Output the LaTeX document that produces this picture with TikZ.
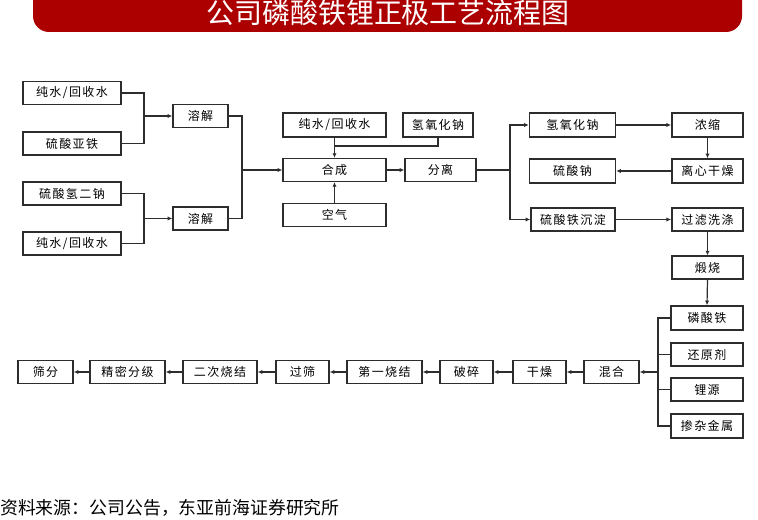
\documentclass[tikz,border=0pt]{standalone}
\usepackage{fontspec}
\usetikzlibrary{arrows.meta}
\newfontfamily\cjk{Noto Sans CJK SC}
\newfontfamily\cjkbox[LetterSpace=12]{Noto Sans CJK SC}
\definecolor{bannerred}{RGB}{172,0,0}
\definecolor{linegray}{RGB}{45,45,45}
\tikzset{
  box/.style={draw=linegray, line width=1.1pt, fill=white, inner sep=0pt,
    minimum height=17pt, font=\cjkbox\fontsize{9}{10}\selectfont},
  line/.style={draw=linegray, line width=0.9pt},
  arr/.style={line, -{Latex[length=3.5pt,width=3.2pt]}}
}

\begin{document}
\begin{tikzpicture}[x=0.75pt,y=-0.75pt]
  \useasboundingbox (0,0) rectangle (758,520);
  % title banner
  \fill[bannerred, rounded corners=12pt] (33,-30) rectangle (742,32);
  \node[text=white, font=\cjk\fontsize{21}{25}\selectfont] (title) at (388,13) {公司磷酸铁锂正极工艺流程图};

  % raw materials, left
  \node[box, minimum width=73.5pt] (water1) at (72,93) {纯水/回收水};
  \node[box, minimum width=73.5pt] (feso) at (72,143.5) {硫酸亚铁};
  \node[box, minimum width=73.5pt] (nahp) at (72,193.5) {硫酸氢二钠};
  \node[box, minimum width=73.5pt] (water2) at (72,243.5) {纯水/回收水};
  \node[box, minimum width=41.25pt] (dissolveA) at (200.5,116) {溶解};
  \node[box, minimum width=41.25pt] (dissolveB) at (200.5,218.5) {溶解};

  % synthesis
  \node[box, minimum width=77.25pt, minimum height=18pt] (water3) at (334.5,125) {纯水/回收水};
  \node[box, minimum width=52.5pt, minimum height=18pt] (naohA) at (438,125) {氢氧化钠};
  \node[box, minimum width=77.25pt] (synth) at (334.5,170) {合成};
  \node[box, minimum width=53.25pt] (separate) at (440.5,170) {分离};
  \node[box, minimum width=77.25pt] (air) at (334.5,215) {空气};

  % right side
  \node[box, minimum width=64.5pt, minimum height=18pt] (naohB) at (572.5,125) {氢氧化钠};
  \node[box, minimum width=64.5pt, minimum height=18pt] (nasulf) at (572.5,171) {硫酸钠};
  \node[box, minimum width=63pt] (fesp) at (573,219.5) {硫酸铁沉淀};
  \node[box, minimum width=53.5pt, minimum height=18pt] (conc) at (707.5,125) {浓缩};
  \node[box, minimum width=53.5pt, minimum height=18pt] (centri) at (707.5,171) {离心干燥};
  \node[box, minimum width=53.5pt] (wash) at (707.5,219.5) {过滤洗涤};
  \node[box, minimum width=53.5pt] (calcine) at (707.5,267.5) {煅烧};
  \node[box, minimum width=54pt, minimum height=18pt] (fepo) at (707,318) {磷酸铁};
  \node[box, minimum width=54pt] (reduct) at (707,354.5) {还原剂};
  \node[box, minimum width=54pt] (lisrc) at (707,389.5) {锂源};
  \node[box, minimum width=54pt, minimum height=18pt] (dopant) at (707,426) {掺杂金属};

  % bottom row
  \node[box, minimum width=41.25pt] (mix) at (611.5,372) {混合};
  \node[box, minimum width=39.75pt] (dry) at (539.5,372) {干燥};
  \node[box, minimum width=39.75pt] (crush) at (466.5,372) {破碎};
  \node[box, minimum width=56.25pt] (sinterA) at (384.5,372) {第一烧结};
  \node[box, minimum width=39.75pt] (sieve) at (302.5,372) {过筛};
  \node[box, minimum width=55.5pt] (sinterB) at (220,372) {二次烧结};
  \node[box, minimum width=56.25pt] (classify) at (127.5,372) {精密分级};
  \node[box, minimum width=41.25pt] (screen) at (45.5,372) {筛分};

  % junctions
  \coordinate (jA) at (144,116);
  \coordinate (jB) at (144,218.5);
  \coordinate (jC) at (242,170);
  \coordinate (jD) at (334.5,146);
  \coordinate (jE) at (510,170);
  \coordinate (jF) at (658,372);

  % connectors
  \draw[line] (water1.east) -| (jA) |- (feso.east);
  \draw[arr] (jA) -- (dissolveA.west);
  \draw[line] (nahp.east) -| (jB) |- (water2.east);
  \draw[arr] (jB) -- (dissolveB.west);
  \draw[line] (dissolveA.east) -| (jC) |- (dissolveB.east);
  \draw[arr] (jC) -- (synth.west);
  \draw[arr] (water3.south) -- (synth.north);
  \draw[line] (naohA.south) |- (jD);
  \draw[arr] (air.north) -- (synth.south);
  \draw[arr] (synth.east) -- (separate.west);
  \draw[line] (separate.east) -- (jE);
  \draw[arr] (jE) |- (naohB.west);
  \draw[arr] (jE) |- (fesp.west);
  \draw[arr] (naohB.east) -- (conc.west);
  \draw[arr] (conc.south) -- (centri.north);
  \draw[arr] (centri.west) -- (nasulf.east);
  \draw[arr] (fesp.east) -- (wash.west);
  \draw[arr] (wash.south) -- (calcine.north);
  \draw[arr] (calcine.south) -- (fepo.north);
  \draw[line] (fepo.west) -| (jF) |- (dopant.west);
  \draw[line] (reduct.west) -- (reduct.west -| jF);
  \draw[line] (lisrc.west) -- (lisrc.west -| jF);
  \draw[arr] (jF) -- (mix.east);
  \draw[arr] (mix.west) -- (dry.east);
  \draw[arr] (dry.west) -- (crush.east);
  \draw[arr] (crush.west) -- (sinterA.east);
  \draw[arr] (sinterA.west) -- (sieve.east);
  \draw[arr] (sieve.west) -- (sinterB.east);
  \draw[arr] (sinterB.west) -- (classify.east);
  \draw[arr] (classify.west) -- (screen.east);

  % source
  \node[anchor=west, inner sep=0pt, font=\cjk\fontsize{13.4}{16}\selectfont] (source) at (0,508) {资料来源：公司公告，东亚前海证券研究所};
\end{tikzpicture}
\end{document}
